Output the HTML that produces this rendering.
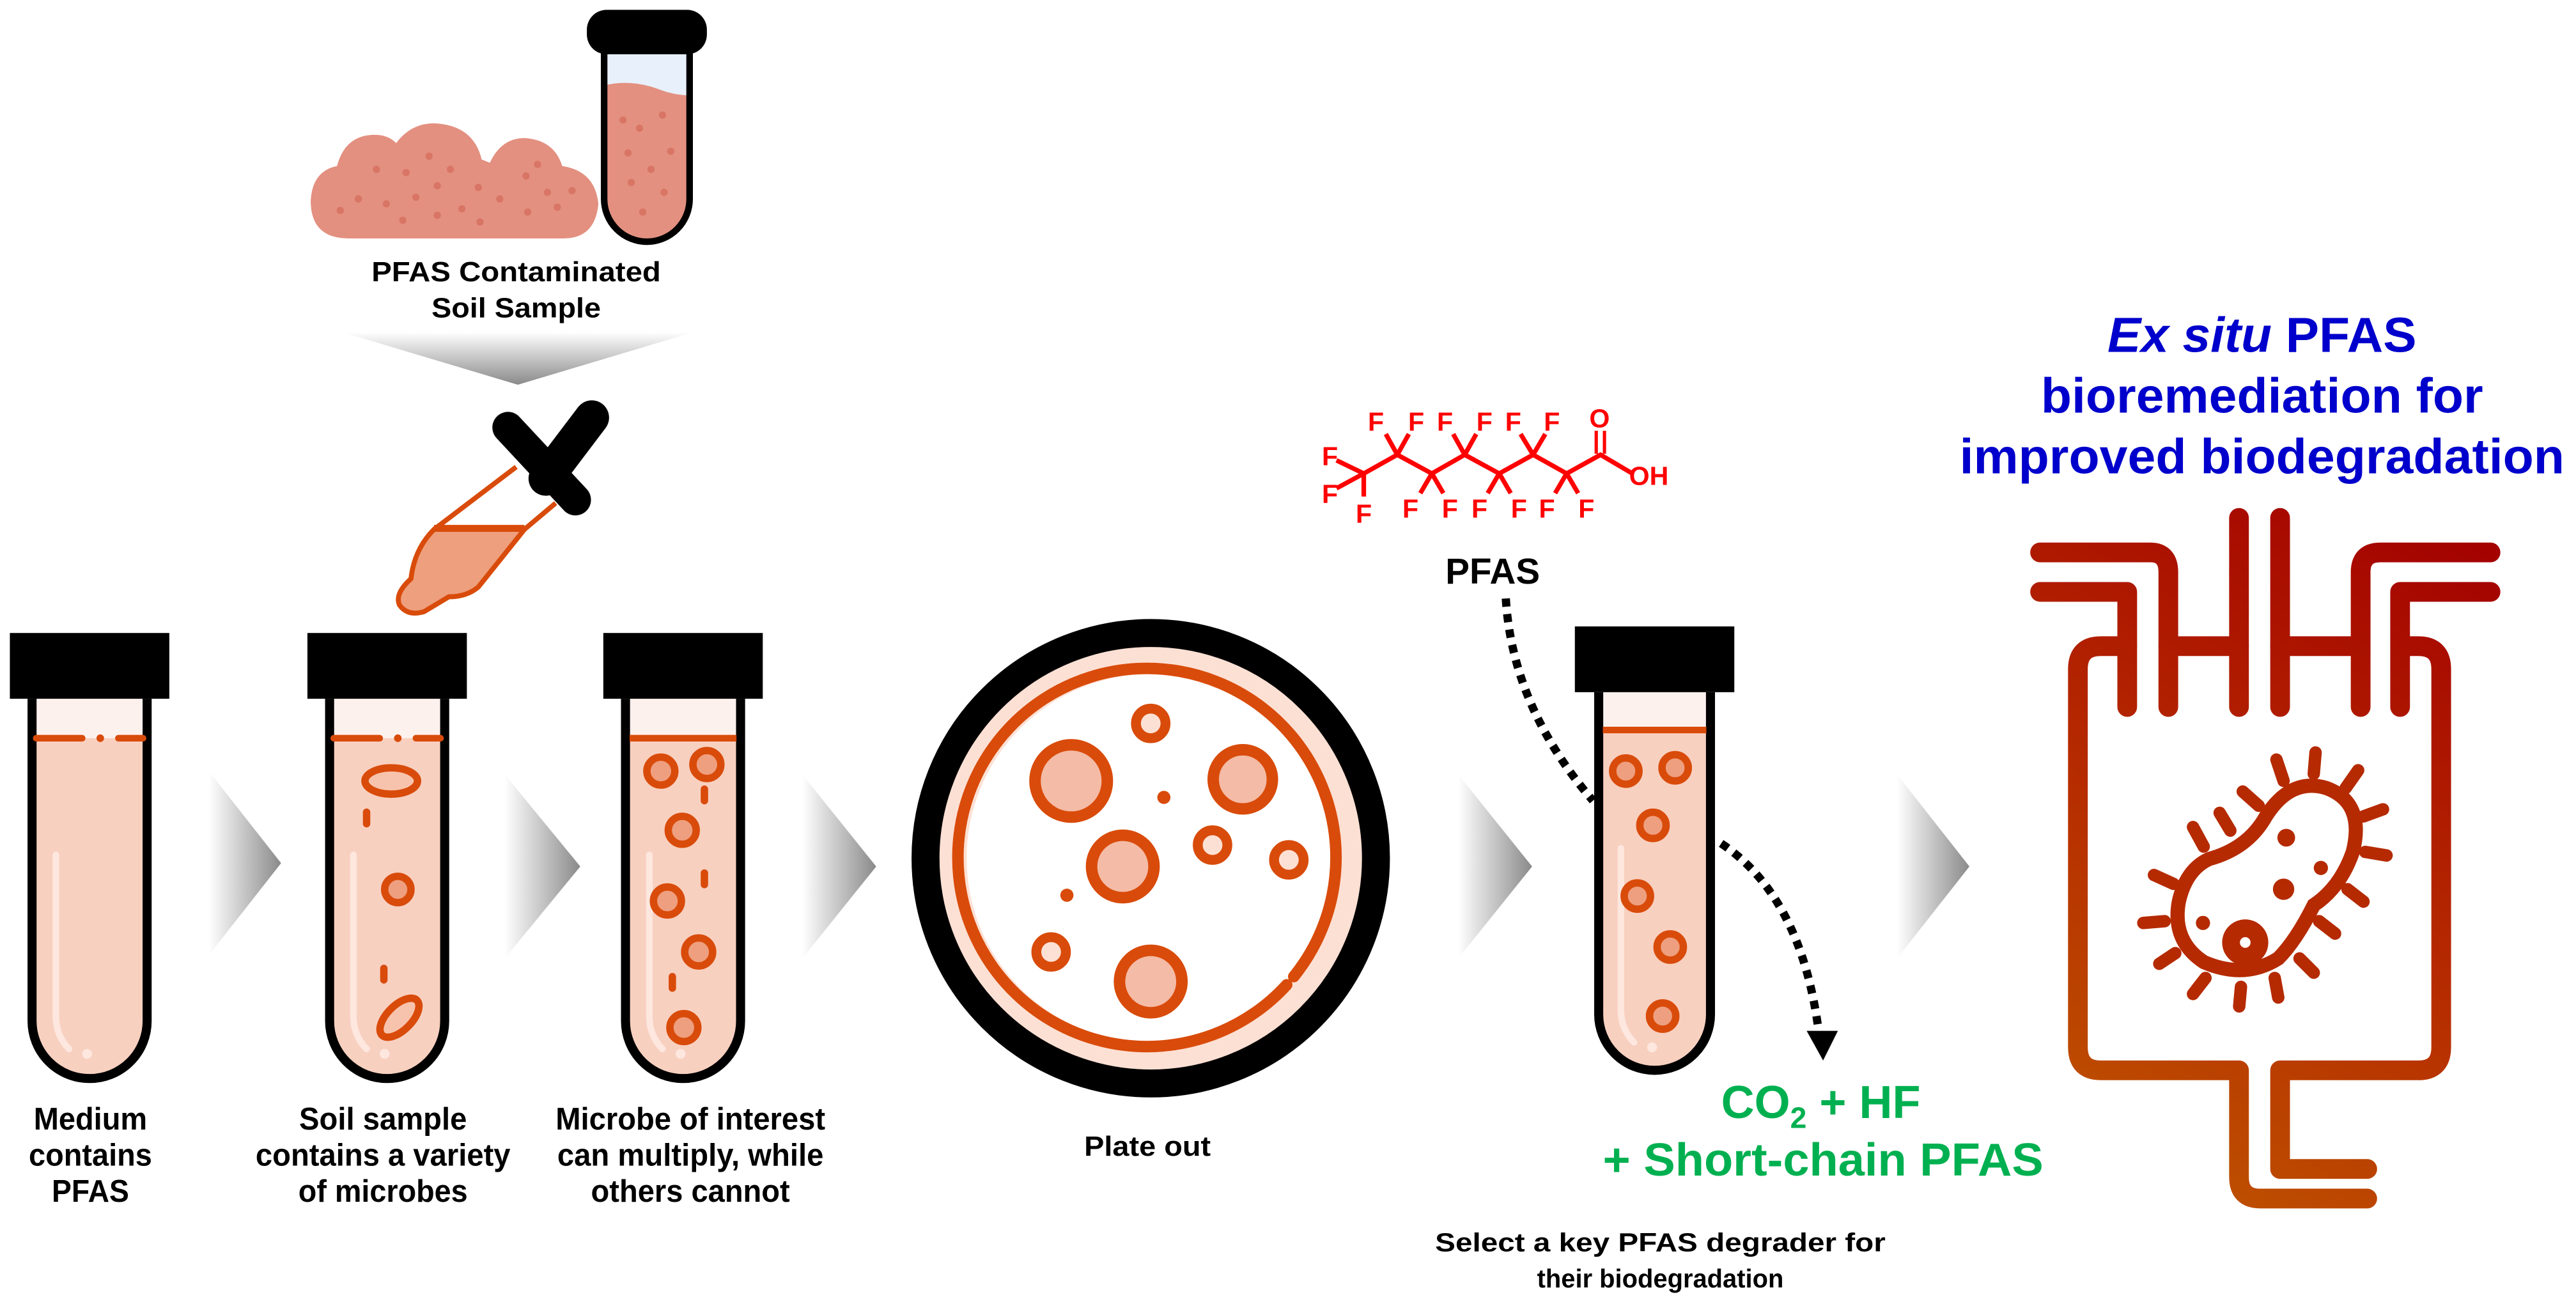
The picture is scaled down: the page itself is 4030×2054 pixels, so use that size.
<!DOCTYPE html>
<html><head><meta charset="utf-8"><style>html,body{margin:0;padding:0;background:#fff}svg{display:block}</style></head><body>
<svg width="4030" height="2054" viewBox="0 0 1567 798.6" preserveAspectRatio="none" xmlns="http://www.w3.org/2000/svg">
<defs>
<linearGradient id="chev" x1="0" y1="0" x2="1" y2="0"><stop offset="0" stop-color="#fff"/><stop offset="1" stop-color="#8a8a8a"/></linearGradient>
<linearGradient id="fun" x1="0" y1="0" x2="0" y2="1"><stop offset="0" stop-color="#fff"/><stop offset="1" stop-color="#8a8a8a"/></linearGradient>
<linearGradient id="reac" gradientUnits="userSpaceOnUse" x1="1500" y1="315" x2="1250" y2="740"><stop offset="0" stop-color="#a30000"/><stop offset="0.5" stop-color="#b52a00"/><stop offset="1" stop-color="#c05a00"/></linearGradient>
</defs>
<g font-family="'Liberation Sans', Arial, sans-serif" font-weight="bold">

<path d="M212,145 Q189,145 189,122 Q190,104 205,101 Q210,82 228,82 Q236,82 241,87 Q250,75 264,75 Q288,76 293,97 L298,99 Q305,84 319,84 Q337,85 342,101 Q362,104 364,124 Q362,145 343,145 Z" fill="#e39080"/>
<g fill="#d97565">
<circle cx="207" cy="128" r="2.2"/><circle cx="218" cy="121" r="2.2"/><circle cx="235" cy="124" r="2.2"/><circle cx="229" cy="103" r="2.2"/><circle cx="247" cy="105" r="2.2"/><circle cx="261" cy="95" r="2.2"/><circle cx="274" cy="103" r="2.2"/><circle cx="266" cy="113" r="2.2"/><circle cx="253" cy="120" r="2.2"/><circle cx="245" cy="134" r="2.2"/><circle cx="266" cy="131" r="2.2"/><circle cx="281" cy="127" r="2.2"/><circle cx="291" cy="114" r="2.2"/><circle cx="292" cy="135" r="2.2"/><circle cx="304" cy="121" r="2.2"/><circle cx="320" cy="107" r="2.2"/><circle cx="327" cy="100" r="2.2"/><circle cx="333" cy="117" r="2.2"/><circle cx="348" cy="116" r="2.2"/><circle cx="321" cy="129" r="2.2"/><circle cx="339" cy="126" r="2.2"/>
</g>
<path d="M367.5,32 V121 A26,26 0 0 0 419.5,121 V32 Z" fill="#e39080"/>
<path d="M367.5,32 V52 Q383,48 400,54 Q410,58 419.5,58 V32 Z" fill="#e8f0fb"/>
<path d="M367.5,32 V121 A26,26 0 0 0 419.5,121 V32" fill="none" stroke="#000" stroke-width="4"/>
<rect x="357" y="6" width="73" height="27" rx="12" fill="#000"/>
<g fill="#d97565"><circle cx="379" cy="73" r="2.2"/><circle cx="389" cy="78" r="2.2"/><circle cx="403" cy="70" r="2.2"/><circle cx="382" cy="93" r="2.2"/><circle cx="408" cy="92" r="2.2"/><circle cx="396" cy="103" r="2.2"/><circle cx="384" cy="111" r="2.2"/><circle cx="404" cy="117" r="2.2"/><circle cx="391" cy="129" r="2.2"/></g>

<text x="314" y="171" font-size="17" text-anchor="middle" textLength="176" lengthAdjust="spacingAndGlyphs">PFAS Contaminated</text>
<text x="314" y="193" font-size="17" text-anchor="middle" textLength="103" lengthAdjust="spacingAndGlyphs">Soil Sample</text>
<polygon points="208,202 422,202 315,234" fill="url(#fun)"/>

<!-- dropper -->
<line x1="314" y1="284" x2="264" y2="322" stroke="#d94b0a" stroke-width="3"/>
<line x1="338" y1="306" x2="319" y2="322" stroke="#d94b0a" stroke-width="3"/>
<path d="M264,322 L319,322 L291,357 Q284,363 273,363 L258,372 Q248,375 243,368 Q240,361 250,352 Q252,334 264,322 Z" fill="#ee9f7e" stroke="#d94b0a" stroke-width="3"/>
<line x1="264" y1="321" x2="319" y2="321" stroke="#d94b0a" stroke-width="3.5"/>
<line x1="309" y1="260" x2="350" y2="304" stroke="#000" stroke-width="19" stroke-linecap="round"/>
<line x1="360" y1="254" x2="332" y2="291" stroke="#000" stroke-width="21" stroke-linecap="round"/>

<g>
<path d="M19.5,425 V621 A35,35 0 0 0 89.5,621 V425 Z" fill="#f8d0c0"/>
<rect x="19.5" y="425" width="70" height="24" fill="#fdf1ee"/>
<path d="M34,520 V618 Q34,630 42,638" fill="none" stroke="#fde7df" stroke-width="4" stroke-linecap="round"/>
<circle cx="53" cy="641" r="3" fill="#fde7df"/>
<path d="M19.5,425 V621 A35,35 0 0 0 89.5,621 V425" fill="none" stroke="#000" stroke-width="5.5"/>
<line x1="22" y1="449" x2="50" y2="449" stroke="#d94b0a" stroke-width="4" stroke-linecap="round"/><circle cx="61" cy="449" r="2.3" fill="#d94b0a"/><line x1="72" y1="449" x2="87" y2="449" stroke="#d94b0a" stroke-width="4" stroke-linecap="round"/>
<rect x="6" y="385" width="97" height="40" fill="#000"/>
</g>
<g transform="translate(181,0)">
<path d="M19.5,425 V621 A35,35 0 0 0 89.5,621 V425 Z" fill="#f8d0c0"/>
<rect x="19.5" y="425" width="70" height="24" fill="#fdf1ee"/>
<path d="M34,520 V618 Q34,630 42,638" fill="none" stroke="#fde7df" stroke-width="4" stroke-linecap="round"/>
<circle cx="53" cy="641" r="3" fill="#fde7df"/>
<path d="M19.5,425 V621 A35,35 0 0 0 89.5,621 V425" fill="none" stroke="#000" stroke-width="5.5"/>
<line x1="22" y1="449" x2="50" y2="449" stroke="#d94b0a" stroke-width="4" stroke-linecap="round"/><circle cx="61" cy="449" r="2.3" fill="#d94b0a"/><line x1="72" y1="449" x2="87" y2="449" stroke="#d94b0a" stroke-width="4" stroke-linecap="round"/>
<rect x="6" y="385" width="97" height="40" fill="#000"/>
</g>
<g transform="translate(361,0)">
<path d="M19.5,425 V621 A35,35 0 0 0 89.5,621 V425 Z" fill="#f8d0c0"/>
<rect x="19.5" y="425" width="70" height="24" fill="#fdf1ee"/>
<path d="M34,520 V618 Q34,630 42,638" fill="none" stroke="#fde7df" stroke-width="4" stroke-linecap="round"/>
<circle cx="53" cy="641" r="3" fill="#fde7df"/>
<path d="M19.5,425 V621 A35,35 0 0 0 89.5,621 V425" fill="none" stroke="#000" stroke-width="5.5"/>
<line x1="22" y1="449" x2="87" y2="449" stroke="#d94b0a" stroke-width="4"/>
<rect x="6" y="385" width="97" height="40" fill="#000"/>
</g>
<g transform="translate(952,-4)">
<path d="M20.5,425 V621 A34,34 0 0 0 88.5,621 V425 Z" fill="#f8d0c0"/>
<rect x="20.5" y="425" width="68" height="23" fill="#fdf1ee"/>
<path d="M34,520 V618 Q34,630 42,638" fill="none" stroke="#fde7df" stroke-width="4" stroke-linecap="round"/>
<circle cx="53" cy="641" r="3" fill="#fde7df"/>
<path d="M20.5,425 V621 A34,34 0 0 0 88.5,621 V425" fill="none" stroke="#000" stroke-width="5.5"/>
<line x1="23" y1="448" x2="86" y2="448" stroke="#d94b0a" stroke-width="4"/>
<rect x="6" y="385" width="97" height="40" fill="#000"/>
</g>

<g stroke="#d94b0a" stroke-width="4.5" fill="#ee9f80">
<ellipse cx="238" cy="475" rx="16" ry="8" fill="#f8c3ad"/>
<circle cx="242" cy="541" r="8"/>
<ellipse cx="243" cy="619" rx="15" ry="7.5" transform="rotate(-45 243 619)" fill="#f8c3ad"/>
<line x1="223" y1="494" x2="223" y2="501" stroke-linecap="round"/>
<line x1="233.5" y1="589" x2="233.5" y2="596" stroke-linecap="round"/>
<circle cx="402" cy="469" r="8.5"/><circle cx="430" cy="465" r="8.5"/><circle cx="415" cy="505" r="8.5"/><circle cx="406" cy="548" r="8.5"/><circle cx="425" cy="579" r="8.5"/><circle cx="416" cy="625" r="8.5"/>
<line x1="428.5" y1="480" x2="428.5" y2="487" stroke-linecap="round"/><line x1="428.5" y1="531" x2="428.5" y2="538" stroke-linecap="round"/><line x1="409" y1="594" x2="409" y2="601" stroke-linecap="round"/>
<circle cx="989" cy="469" r="8"/><circle cx="1019" cy="467" r="8"/><circle cx="1005.5" cy="502" r="8"/><circle cx="996" cy="545" r="8"/><circle cx="1016" cy="576" r="8"/><circle cx="1011.4" cy="618" r="8"/>
</g>

<polygon points="127,469 171,525 127,581" fill="url(#chev)"/>
<polygon points="307,471 353,527 307,583" fill="url(#chev)"/>
<polygon points="488,471 533,527 488,583" fill="url(#chev)"/>
<polygon points="887,471 932,527 887,583" fill="url(#chev)"/>
<polygon points="1154,471 1198,527 1154,583" fill="url(#chev)"/>

<circle cx="700" cy="522" r="137" fill="#fde0d4" stroke="#000" stroke-width="17"/>
<circle cx="700" cy="522" r="112" fill="#fff"/>
<path d="M782.7,599 A115,115 0 1 1 787,594" fill="none" stroke="#d94b0a" stroke-width="7" stroke-linecap="round"/>
<g stroke="#d94b0a" stroke-width="7" fill="#f4bba6">
<circle cx="651.6" cy="475" r="22"/><circle cx="756" cy="474" r="18"/><circle cx="683" cy="527" r="19"/><circle cx="700" cy="597" r="19"/>
</g>
<g stroke="#d94b0a" stroke-width="6" fill="#fde0d4">
<circle cx="700" cy="440" r="9"/><circle cx="737.6" cy="514" r="9"/><circle cx="784" cy="523" r="9"/><circle cx="639.4" cy="579" r="9"/>
</g>
<circle cx="708" cy="485" r="4" fill="#d94b0a"/><circle cx="649" cy="544.5" r="4" fill="#d94b0a"/>

<g stroke="#ff0000" stroke-width="2.8" fill="none">
<polyline points="829.6,288 850,276.6 871,288 891,276.6 912,288 932.6,276.6 953,288 973.6,276.6 993,288"/>
<line x1="829.6" y1="288" x2="813" y2="280"/><line x1="829.6" y1="288" x2="813" y2="297"/><line x1="829.6" y1="288" x2="829.6" y2="302"/>
<line x1="850" y1="276.6" x2="843" y2="264"/><line x1="850" y1="276.6" x2="857" y2="264"/>
<line x1="891" y1="276.6" x2="884" y2="264"/><line x1="891" y1="276.6" x2="898" y2="264"/>
<line x1="932.6" y1="276.6" x2="925" y2="264"/><line x1="932.6" y1="276.6" x2="940" y2="264"/>
<line x1="871" y1="288" x2="864" y2="300"/><line x1="871" y1="288" x2="878" y2="300"/>
<line x1="912" y1="288" x2="905" y2="300"/><line x1="912" y1="288" x2="919" y2="300"/>
<line x1="953" y1="288" x2="946" y2="300"/><line x1="953" y1="288" x2="960" y2="300"/>
<line x1="971" y1="276" x2="971" y2="262" stroke-width="2"/><line x1="976" y1="276" x2="976" y2="262" stroke-width="2"/>
</g>
<g fill="#ff0000" font-size="16" text-anchor="middle">
<text x="837" y="262">F</text><text x="861.5" y="262">F</text><text x="879" y="262">F</text><text x="903" y="262">F</text><text x="920.5" y="262">F</text><text x="944" y="262">F</text>
<text x="858" y="315">F</text><text x="882" y="315">F</text><text x="900" y="315">F</text><text x="924" y="315">F</text><text x="941" y="315">F</text><text x="965" y="315">F</text>
<text x="809" y="283">F</text><text x="809" y="306">F</text><text x="829.6" y="318">F</text>
<text x="973" y="260">O</text><text x="1003" y="295">OH</text>
</g>
<text x="908" y="355" font-size="22" text-anchor="middle">PFAS</text>

<path d="M916,364 Q920,430 969,487" fill="none" stroke="#000" stroke-width="5" stroke-dasharray="5 4.5"/>
<path d="M1047,513 Q1095,545 1106,625" fill="none" stroke="#000" stroke-width="5" stroke-dasharray="5 4.5"/>
<polygon points="1099,627 1118,627 1109,645" fill="#000"/>

<text x="1047" y="680" font-size="28" fill="#00b050">CO<tspan font-size="18" dy="6">2</tspan><tspan dy="-6"> + HF</tspan></text>
<text x="1109" y="715" font-size="28" fill="#00b050" text-anchor="middle" textLength="268" lengthAdjust="spacingAndGlyphs">+ Short-chain PFAS</text>

<g font-size="19" text-anchor="middle">
<text x="55" y="687" textLength="69" lengthAdjust="spacingAndGlyphs">Medium</text>
<text x="55" y="709" textLength="75" lengthAdjust="spacingAndGlyphs">contains</text>
<text x="55" y="731" textLength="47" lengthAdjust="spacingAndGlyphs">PFAS</text>
<text x="233" y="687" textLength="102" lengthAdjust="spacingAndGlyphs">Soil sample</text>
<text x="233" y="709" textLength="155" lengthAdjust="spacingAndGlyphs">contains a variety</text>
<text x="233" y="731" textLength="103" lengthAdjust="spacingAndGlyphs">of microbes</text>
<text x="420" y="687" textLength="164" lengthAdjust="spacingAndGlyphs">Microbe of interest</text>
<text x="420" y="709" textLength="162" lengthAdjust="spacingAndGlyphs">can multiply, while</text>
<text x="420" y="731" textLength="121" lengthAdjust="spacingAndGlyphs">others cannot</text>
</g>
<text x="698" y="703" font-size="17" text-anchor="middle" textLength="77" lengthAdjust="spacingAndGlyphs">Plate out</text>
<text x="1010" y="761" font-size="16" text-anchor="middle" textLength="274" lengthAdjust="spacingAndGlyphs">Select a key PFAS degrader for</text>
<text x="1010" y="783" font-size="16" text-anchor="middle" textLength="150" lengthAdjust="spacingAndGlyphs">their biodegradation</text>

<g fill="#0000cc" font-size="30" text-anchor="middle">
<text x="1376" y="214" textLength="188" lengthAdjust="spacingAndGlyphs"><tspan font-style="italic">Ex situ</tspan> PFAS</text>
<text x="1376" y="251" textLength="269" lengthAdjust="spacingAndGlyphs">bioremediation for</text>
<text x="1376" y="288" textLength="368" lengthAdjust="spacingAndGlyphs">improved biodegradation</text>
</g>

<g fill="none" stroke="url(#reac)" stroke-width="12" stroke-linecap="round" stroke-linejoin="round">
<path d="M1294,430 V393 H1278 Q1264,393 1264,407 V637 Q1264,651 1278,651 H1362 V716 Q1362,729 1375,729 H1440"/>
<path d="M1460,430 V393 H1471 Q1485,393 1485,407 V637 Q1485,651 1471,651 H1387 V711 H1440"/>
<path d="M1241,336 H1308 Q1319,336 1319,348 V430"/>
<path d="M1241,360 H1294 V393"/>
<path d="M1319,393 H1362"/><path d="M1387,393 H1436"/>
<path d="M1362,315 V430"/><path d="M1387,315 V430"/>
<path d="M1515,336 H1448 Q1436,336 1436,348 V430"/>
<path d="M1515,360 H1460 V393"/>
</g>
<g transform="translate(1374 543) scale(1.08) translate(-1374 -543)">
<g stroke="#b52a00" fill="none" stroke-linecap="round">
<path d="M1346,524 Q1368,518 1378,500 Q1392,478 1412,484 Q1434,492 1427,520 Q1420,540 1405,550 Q1395,570 1385,580 Q1366,592 1343,582 Q1325,570 1329,548 Q1333,530 1346,524 Z" stroke-width="8"/>
<g stroke-width="7">
<line x1="1374" y1="494" x2="1365" y2="486"/><line x1="1388" y1="480" x2="1384" y2="468"/><line x1="1405" y1="476" x2="1406" y2="464"/><line x1="1423" y1="484" x2="1430" y2="474"/><line x1="1433" y1="500" x2="1444" y2="496"/><line x1="1434" y1="520" x2="1446" y2="522"/><line x1="1424" y1="541" x2="1433" y2="548"/><line x1="1408" y1="559" x2="1417" y2="566"/><line x1="1397" y1="580" x2="1405" y2="588"/><line x1="1383" y1="591" x2="1385" y2="602"/><line x1="1364" y1="596" x2="1363" y2="607"/><line x1="1344" y1="591" x2="1337" y2="600"/><line x1="1327" y1="577" x2="1318" y2="583"/><line x1="1321" y1="559" x2="1309" y2="560"/><line x1="1326" y1="538" x2="1315" y2="533"/><line x1="1343" y1="517" x2="1337" y2="506"/><line x1="1358" y1="508" x2="1352" y2="498"/>
</g>
</g>
<g fill="#b52a00"><circle cx="1389.5" cy="512" r="5"/><circle cx="1409" cy="529" r="4"/><circle cx="1388" cy="541" r="6"/><circle cx="1342.6" cy="560" r="4"/><circle cx="1366.4" cy="571" r="13"/></g>
<circle cx="1366.4" cy="571" r="3" fill="#fff"/>
</g>
</g>
</svg>
</body></html>
